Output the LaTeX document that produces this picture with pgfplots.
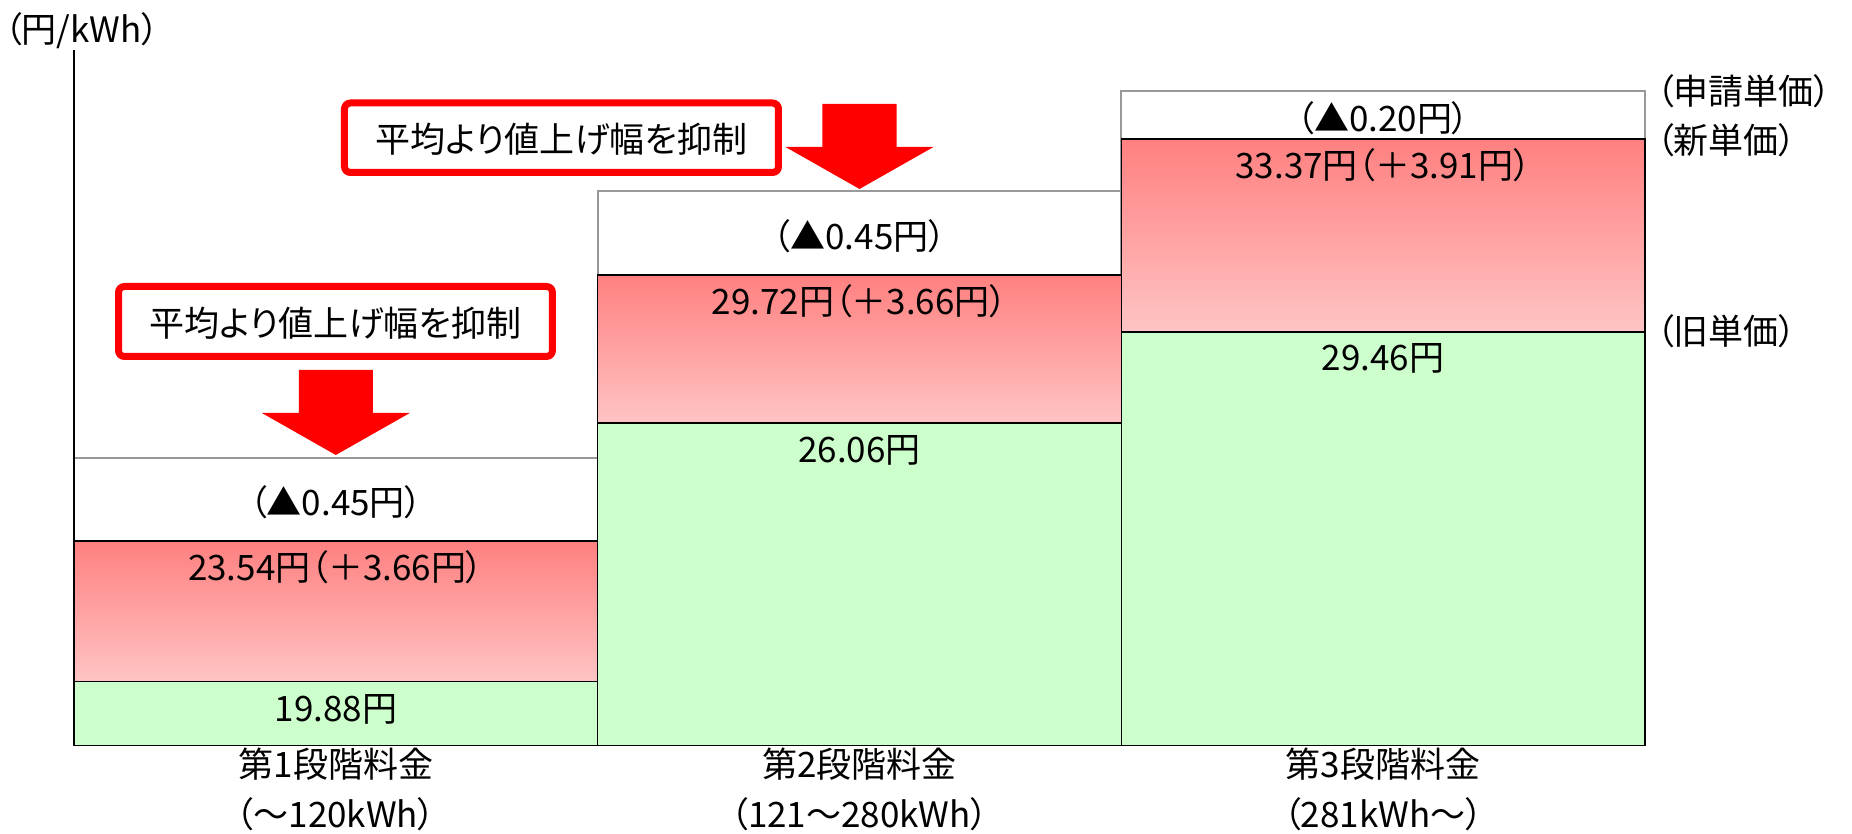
\documentclass[border=0pt]{standalone}
\usepackage{pgfplots}
\pgfplotsset{compat=1.18}
\usepackage{fontspec}
\setmainfont{Noto Sans CJK JP}[RawFeature=+palt]
\definecolor{bargreen}{RGB}{204,255,204}
\definecolor{redtop}{RGB}{255,128,128}
\definecolor{redbot}{RGB}{255,196,196}
\definecolor{callred}{RGB}{255,0,0}
% Heights follow the drawn (schematic) heights of the original chart;
% the price values themselves are given in the labels.
\begin{document}
\fontsize{17.5}{23.5}\selectfont
\begin{tikzpicture}
\begin{axis}[
  set layers, axis on top,
  x=261.835pt, y=0.5pt,
  xmin=0, xmax=3, ymin=0, ymax=695.5,
  axis x line=bottom, axis y line=left,
  axis line style={-, line width=0.7pt, black},
  xtick={0.5,1.5,2.5},
  xticklabels={{第1段階料金\\（～120kWh）},{第2段階料金\\（121～280kWh）},{第3段階料金\\（281kWh～）}},
  xticklabel style={align=center, inner sep=0pt, yshift=-1pt, font=\fontsize{17.5}{25}\selectfont},
  major tick length=0pt,
  ytick=\empty,
  clip=false,
]
% 申請単価 (applied-for price, top of the white segment)
\addplot[ybar, bar width=1, bar shift=0, on layer=axis background, fill=white, draw=black!40, line width=1pt]
  coordinates {(0.5,287.5) (1.5,554.5) (2.5,654.5)};
% 旧単価 (old unit price)
\addplot[ybar, bar width=1, bar shift=0, fill=bargreen, draw=black, line width=0.7pt]
  coordinates {(0.5,64) (1.5,322.5) (2.5,413.5)};
% 新単価 (new unit price): increase segments
\addplot[top color=redtop, bottom color=redbot, draw=black, line width=0.7pt]
  coordinates {(0,64) (1,64) (1,204.5) (0,204.5)} -- cycle;
\addplot[top color=redtop, bottom color=redbot, draw=black, line width=0.7pt]
  coordinates {(1,322.5) (2,322.5) (2,470.5) (1,470.5)} -- cycle;
\addplot[top color=redtop, bottom color=redbot, draw=black, line width=0.7pt]
  coordinates {(2,413.5) (3,413.5) (3,606.5) (2,606.5)} -- cycle;

\begin{pgfonlayer}{axis foreground}
% bar labels
\node[anchor=base] at (axis cs:0.5,230) {（▲0.45円）};
\node[anchor=base] at (axis cs:0.5,165) {23.54円（＋3.66円）};
\node[anchor=base] at (axis cs:0.5,24) {19.88円};
\node[anchor=base] at (axis cs:1.5,496) {（▲0.45円）};
\node[anchor=base] at (axis cs:1.5,431) {29.72円（＋3.66円）};
\node[anchor=base] at (axis cs:1.5,283) {26.06円};
\node[anchor=base] at (axis cs:2.5,614) {（▲0.20円）};
\node[anchor=base] at (axis cs:2.5,566.5) {33.37円（＋3.91円）};
\node[anchor=base] at (axis cs:2.5,375) {29.46円};

% right-side labels
\node[anchor=base west, inner sep=0pt] at (axis cs:3.021,640.5) {（申請単価）};
\node[anchor=base west, inner sep=0pt] at (axis cs:3.021,591.5) {（新単価）};
\node[anchor=base west, inner sep=0pt] at (axis cs:3.021,400.5) {（旧単価）};

% y unit
\node[anchor=base west, inner sep=0pt] at (axis cs:-0.1337,703) {（円/kWh）};

% callouts
\draw[callred, line width=3.5pt, rounded corners=3pt, fill=white] (axis cs:0.0850,459) rectangle (axis cs:0.9137,389);
\node[anchor=base, text=black] at (axis cs:0.4993,409) {平均より値上げ幅を抑制};
\fill[callred] (axis cs:0.4293,375.5) -- (axis cs:0.5707,375.5) -- (axis cs:0.5707,332.5) -- (axis cs:0.6413,332.5) -- (axis cs:0.5,290.5) -- (axis cs:0.3587,332.5) -- (axis cs:0.4293,332.5) -- cycle;

\draw[callred, line width=3.5pt, rounded corners=3pt, fill=white] (axis cs:0.5165,642.5) rectangle (axis cs:1.3453,573);
\node[anchor=base, text=black] at (axis cs:0.9309,592.5) {平均より値上げ幅を抑制};
\fill[callred] (axis cs:1.4293,641.5) -- (axis cs:1.5707,641.5) -- (axis cs:1.5707,598.5) -- (axis cs:1.6413,598.5) -- (axis cs:1.5,556.5) -- (axis cs:1.3587,598.5) -- (axis cs:1.4293,598.5) -- cycle;
\end{pgfonlayer}

\coordinate (BL) at (axis cs:-0.1413,-88.5);
\coordinate (TR) at (axis cs:3.3953,745.5);
\end{axis}
\pgfresetboundingbox
\path[use as bounding box] (BL) rectangle (TR);
\end{tikzpicture}
\end{document}
